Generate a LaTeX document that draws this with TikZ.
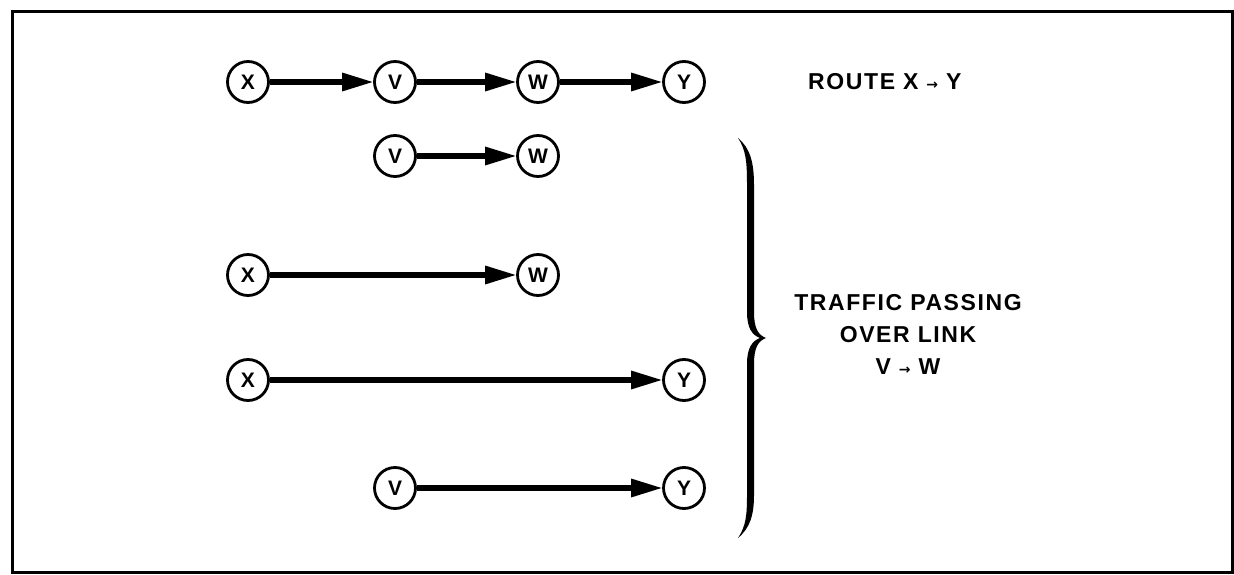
\documentclass[tikz,border=0pt]{standalone}
\usepackage{fontspec}
\setmainfont{Liberation Sans}
\newfontfamily\dejavu{DejaVu Sans}
\usetikzlibrary{arrows.meta}
\begin{document}
\begin{tikzpicture}[x=1pt,y=-1pt,
  nd/.style={circle,draw,line width=2.8pt,minimum size=41pt,inner sep=0pt,
    font=\fontsize{21}{21}\selectfont\bfseries},
  lnk/.style={line width=6pt,-{Triangle[length=32pt,width=17pt]},shorten >=-1pt},
  lbl/.style={font=\addfontfeature{LetterSpace=7}\fontsize{23}{32}\selectfont\bfseries,inner sep=0pt}]
\useasboundingbox (0,0) rectangle (1234,575);
\draw[line width=3pt] (12,12) rectangle (1232,572);
% row 1
\node[nd] (ax) at (248,82) {X};
\node[nd] (av) at (395,82) {V};
\node[nd] (aw) at (538,82) {W};
\node[nd] (ay) at (684,82) {Y};
\draw[lnk] (ax) -- (av);
\draw[lnk] (av) -- (aw);
\draw[lnk] (aw) -- (ay);
% row 2
\node[nd] (bv) at (395,156) {V};
\node[nd] (bw) at (538,156) {W};
\draw[lnk] (bv) -- (bw);
% row 3
\node[nd] (cx) at (248,275) {X};
\node[nd] (cw) at (538,275) {W};
\draw[lnk] (cx) -- (cw);
% row 4
\node[nd] (dx) at (248,380) {X};
\node[nd] (dy) at (684,380) {Y};
\draw[lnk] (dx) -- (dy);
% row 5
\node[nd] (ev) at (395,488) {V};
\node[nd] (ey) at (684,488) {Y};
\draw[lnk] (ev) -- (ey);
% labels
\node[lbl,anchor=west] (route) at (808,82) {ROUTE X {\dejavu\fontsize{14}{14}\selectfont →} Y};
\node[lbl,align=center] (traffic) at (908,334) {TRAFFIC PASSING\\OVER LINK\\V {\dejavu\fontsize{14}{14}\selectfont →} W};
% brace
\fill (738,138) .. controls (750,148) and (754,162) .. (754,185) -- (754,312)
  .. controls (754,328) and (758,335) .. (766,338)
  .. controls (758,341) and (754,348) .. (754,364) -- (754,495)
  .. controls (754,515) and (750,528) .. (738,538)
  .. controls (746,526) and (747,515) .. (747,495) -- (747,364)
  .. controls (747,348) and (752,341) .. (760,338)
  .. controls (752,335) and (747,328) .. (747,312) -- (747,185)
  .. controls (747,162) and (746,150) .. (738,138) -- cycle;
\end{tikzpicture}
\end{document}
